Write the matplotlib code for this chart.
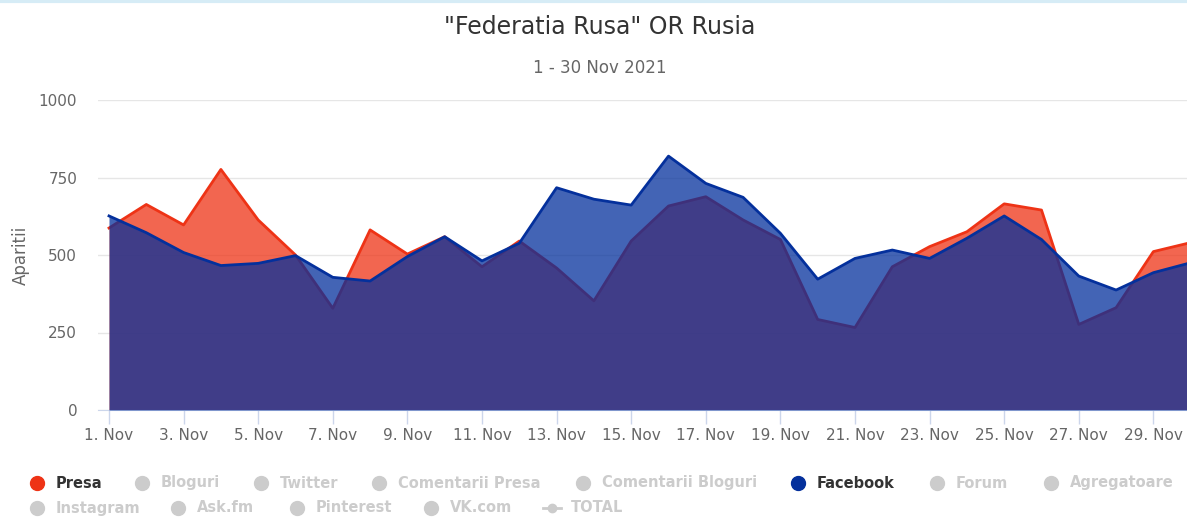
import numpy as np
import matplotlib
matplotlib.use("Agg")
import matplotlib.pyplot as plt

days = np.arange(1, 31)
presa = [587, 663, 597, 776, 613, 500, 328, 581, 503, 559,
         462, 545, 458, 352, 545, 658, 688, 613, 550, 292,
         266, 462, 527, 575, 665, 645, 276, 330, 511, 540]
facebook = [626, 572, 508, 466, 473, 498, 428, 416, 495, 559,
            481, 538, 717, 680, 661, 819, 731, 686, 570, 422,
            489, 516, 489, 554, 626, 550, 432, 387, 443, 475]
tick_days = list(range(1, 30, 2))
tick_labels = ["%d. Nov" % d for d in tick_days]

legend_row1 = ["Presa", "Bloguri", "Twitter", "Comentarii Presa", "Comentarii Bloguri",
               "Facebook", "Forum", "Agregatoare"]
legend_row2 = ["Instagram", "Ask.fm", "Pinterest", "VK.com", "TOTAL"]

red = "#ee3316"
blue = "#04309c"
W, H = 1187, 517

fig = plt.figure(figsize=(W / 100, H / 100), dpi=100)
x0 = 1 - 11 / 37.3
x1 = 1 + (1187 - 109) / 37.3
ax = fig.add_axes([98 / W, (H - 410) / H, (W - 98) / W, 310 / H])

ax.fill_between(days, presa, 0, color=red, alpha=0.75, lw=0, zorder=2)
ax.plot(days, presa, color=red, lw=2, zorder=3)
ax.fill_between(days, facebook, 0, color=blue, alpha=0.75, lw=0, zorder=4)
ax.plot(days, facebook, color=blue, lw=2, zorder=5)

ax.set_xlim(x0, x1)
ax.set_ylim(0, 1000)
ax.set_yticks([0, 250, 500, 750, 1000])
ax.grid(axis="y", color="#e6e6e6", lw=1, zorder=0)
ax.set_xticks(tick_days)
ax.set_xticklabels(tick_labels)
for s in ["top", "right", "left"]:
    ax.spines[s].set_visible(False)
ax.spines["bottom"].set_color("#ccd6eb")
ax.tick_params(axis="x", colors="#ccd6eb", length=10, width=1, labelcolor="#666666",
               labelsize=11, pad=3)
ax.tick_params(axis="y", length=0, labelcolor="#666666", labelsize=11, pad=15)
ax.set_ylabel("Aparitii", color="#666666", fontsize=12, labelpad=6)

fig.text(600 / W, 1 - 27 / H, '"Federatia Rusa" OR Rusia', ha="center", va="center",
         fontsize=17, color="#333333")
fig.text(600 / W, 1 - 68 / H, "1 - 30 Nov 2021", ha="center", va="center",
         fontsize=12, color="#666666")

# top border strip
fig.add_artist(plt.Line2D([0, 1], [1 - 1 / H, 1 - 1 / H], color="#d6ecf6", lw=3))

# legend
row1_x = [37, 142, 261, 379, 583, 798, 937, 1051]
row2_x = [37, 178, 297, 431, 552]
row1_on = {"Presa": red, "Facebook": blue}
for names, xs, y in [(legend_row1, row1_x, 483), (legend_row2, row2_x, 508)]:
    for name, x in zip(names, xs):
        col = row1_on.get(name, "#cccccc")
        tcol = "#333333" if name in row1_on else "#cccccc"
        yy = 1 - y / H
        if name == "TOTAL":
            fig.add_artist(plt.Line2D([(x - 9) / W, (x + 9) / W], [yy, yy],
                                      color="#cccccc", lw=2))
            fig.add_artist(plt.Line2D([x / W], [yy], color="#cccccc", marker="o",
                                      markersize=6, lw=0))
        else:
            fig.add_artist(plt.Line2D([x / W], [yy], color=col, marker="o",
                                      markersize=10, lw=0))
        fig.text((x + 19) / W, yy, name, ha="left", va="center", fontsize=10.5,
                 fontweight="bold", color=tcol)

fig.savefig("out.png", dpi=100)
